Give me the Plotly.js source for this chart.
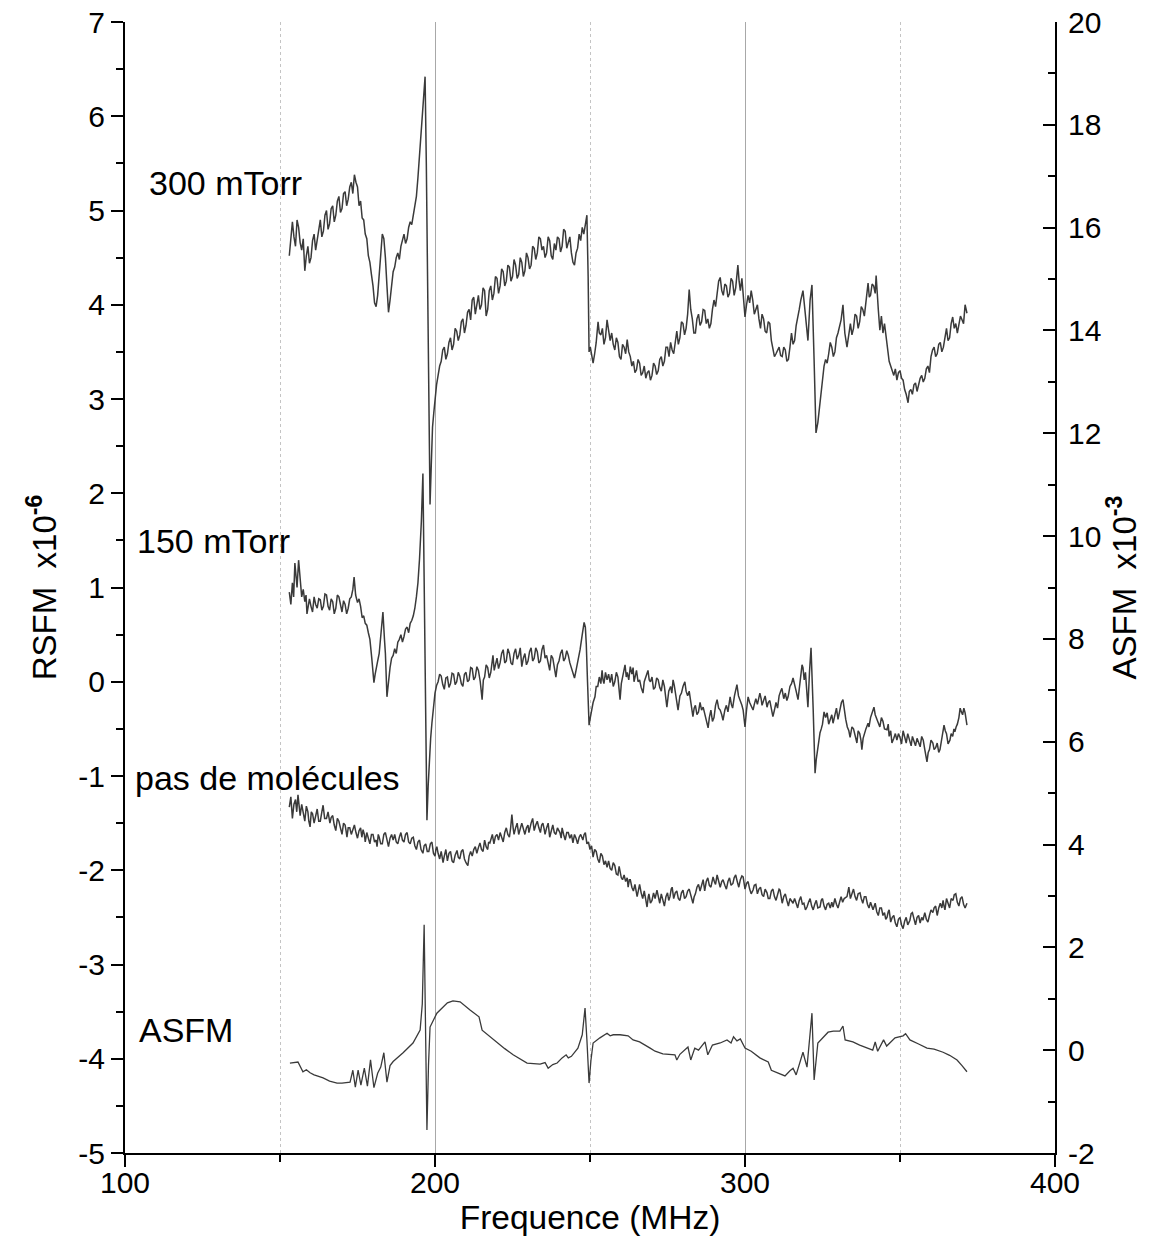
<!DOCTYPE html>
<html>
<head>
<meta charset="utf-8">
<script src="https://cdn.plot.ly/plotly-3.0.1.min.js"></script>
<style>html,body{margin:0;padding:0;background:#fff;}#chart{width:1149px;height:1252px;}</style>
</head>
<body>
<div id="chart"></div>
<script>
// ---- Data (frequency MHz, value) ----
const rsfm300 = [[153,4.52],[153.5,4.70],[154,4.88],[154.5,4.72],[155,4.62],[155.5,4.90],[156,4.82],[156.5,4.66],[157,4.58],[157.5,4.70],[158,4.36],[158.5,4.52],[159,4.62],[159.5,4.44],[160,4.50],[160.5,4.68],[161,4.75],[161.5,4.58],[162,4.68],[162.5,4.82],[163,4.90],[163.5,4.72],[164,4.78],[164.5,4.95],[165,5.00],[165.5,4.80],[166,4.86],[166.5,5.02],[167,5.05],[167.5,4.88],[168,4.95],[168.5,5.10],[169,5.15],[169.5,4.98],[170,5.02],[170.5,5.18],[171,5.20],[171.5,5.05],[172,5.12],[172.5,5.25],[173,5.30],[173.5,5.18],[174,5.38],[174.5,5.30],[175,5.25],[175.5,5.05],[176,5.10],[176.5,4.92],[177,4.90],[177.5,4.75],[178,4.70],[178.5,4.52],[179,4.45],[179.5,4.32],[180,4.20],[180.5,4.02],[181,3.98],[181.5,4.10],[182,4.35],[182.5,4.60],[183,4.75],[183.5,4.70],[184,4.50],[184.5,4.20],[185,3.92],[185.5,4.05],[186,4.20],[186.5,4.35],[187,4.40],[187.5,4.50],[188,4.55],[188.5,4.48],[189,4.62],[189.5,4.70],[190,4.75],[190.5,4.65],[191,4.70],[191.5,4.82],[192,4.88],[192.5,4.85],[193,4.95],[193.5,5.05],[194,5.15],[194.5,5.35],[195,5.60],[195.5,5.85],[196,6.10],[196.4,6.30],[196.8,6.42],[197.2,5.50],[197.6,4.00],[198,2.80],[198.4,1.88],[198.8,2.30],[199.2,2.70],[199.6,2.85],[200,3.00],[200.5,3.15],[201,3.25],[201.5,3.35],[202,3.40],[202.5,3.52],[203,3.55],[203.5,3.42],[204,3.48],[204.5,3.60],[205,3.65],[205.5,3.52],[206,3.58],[206.5,3.75],[207,3.72],[207.5,3.62],[208,3.68],[208.5,3.82],[209,3.85],[209.5,3.70],[210,3.78],[210.5,3.92],[211,3.95],[211.5,3.84],[212,4.05],[212.5,4.08],[213,3.90],[213.5,4.02],[214,4.10],[214.5,3.95],[215,4.00],[215.5,4.18],[216,4.15],[216.5,3.88],[217,3.95],[217.5,4.15],[218,4.20],[218.5,4.05],[219,4.12],[219.5,4.30],[220,4.28],[220.5,4.12],[221,4.20],[221.5,4.38],[222,4.35],[222.5,4.20],[223,4.25],[223.5,4.42],[224,4.40],[224.5,4.25],[225,4.30],[225.5,4.48],[226,4.42],[226.5,4.28],[227,4.32],[227.5,4.50],[228,4.45],[228.5,4.30],[229,4.36],[229.5,4.55],[230,4.50],[230.5,4.38],[231,4.42],[231.5,4.62],[232,4.60],[232.5,4.48],[233,4.55],[233.5,4.72],[234,4.70],[234.5,4.58],[235,4.62],[235.5,4.50],[236,4.55],[236.5,4.72],[237,4.68],[237.5,4.52],[238,4.48],[238.5,4.65],[239,4.58],[239.5,4.72],[240,4.70],[240.5,4.56],[241,4.62],[241.5,4.80],[242,4.78],[242.5,4.60],[243,4.65],[243.5,4.72],[244,4.55],[244.5,4.45],[245,4.42],[245.5,4.55],[246,4.60],[246.5,4.75],[247,4.68],[247.5,4.82],[248,4.75],[248.5,4.88],[249,4.95],[249.4,4.30],[249.7,3.50],[250.1,3.55],[250.5,3.45],[251,3.38],[251.5,3.48],[252,3.60],[252.6,3.82],[253,3.70],[253.5,3.68],[254,3.75],[254.5,3.58],[255,3.65],[255.5,3.84],[256,3.72],[256.5,3.62],[257,3.70],[257.5,3.58],[258,3.52],[258.5,3.65],[259,3.60],[259.5,3.45],[260,3.42],[260.5,3.58],[261,3.55],[261.5,3.48],[262,3.63],[262.5,3.50],[263,3.45],[263.5,3.35],[264,3.40],[264.5,3.28],[265,3.31],[265.5,3.42],[266,3.38],[266.5,3.25],[267,3.28],[267.5,3.35],[268,3.22],[268.5,3.28],[269,3.30],[269.5,3.20],[270,3.25],[270.5,3.38],[271,3.35],[271.5,3.26],[272,3.30],[272.5,3.42],[273,3.45],[273.5,3.35],[274,3.40],[274.5,3.55],[275,3.55],[275.5,3.45],[276,3.60],[276.5,3.52],[277,3.48],[277.5,3.62],[278,3.72],[278.5,3.58],[279,3.65],[279.5,3.82],[280,3.80],[280.5,3.68],[281,3.75],[281.5,3.90],[282,4.16],[282.5,3.95],[283,3.85],[283.5,3.70],[284,3.70],[284.5,3.85],[285,3.90],[285.5,3.78],[286,3.82],[286.5,3.95],[287,3.94],[287.5,3.80],[288,3.85],[288.5,3.75],[289,3.80],[289.5,3.95],[290,4.05],[290.5,3.98],[291,4.15],[291.5,4.25],[292,4.29],[292.5,4.15],[293,4.10],[293.5,4.22],[294,4.20],[294.5,4.08],[295,4.12],[295.5,4.28],[296,4.25],[296.5,4.10],[297,4.18],[297.7,4.42],[298.1,4.25],[298.5,4.15],[299,4.28],[299.5,4.05],[300,3.87],[300.5,4.00],[301,4.10],[301.5,4.02],[302,4.15],[302.5,4.05],[303,3.90],[303.5,3.95],[304,4.00],[304.5,3.85],[305,3.75],[305.5,3.90],[306,3.85],[306.5,3.72],[307,3.70],[307.5,3.82],[308,3.80],[308.5,3.62],[309,3.52],[309.5,3.45],[310,3.48],[310.5,3.52],[311,3.55],[311.5,3.46],[312,3.45],[312.5,3.55],[313,3.52],[313.5,3.40],[314,3.42],[314.5,3.55],[315,3.70],[315.5,3.58],[316,3.62],[316.5,3.78],[317,3.85],[317.5,3.95],[318,4.05],[318.7,4.15],[319.1,4.02],[319.5,3.90],[320.3,3.62],[321,4.05],[321.6,4.21],[322.3,3.40],[322.9,2.64],[323.5,2.75],[324,2.90],[324.5,3.05],[325,3.20],[325.5,3.35],[326,3.42],[326.5,3.38],[327,3.48],[327.5,3.60],[328,3.55],[328.5,3.45],[329,3.50],[329.5,3.65],[330,3.70],[330.5,3.78],[331,3.84],[331.6,4.00],[332.2,3.70],[332.9,3.55],[333.5,3.72],[334,3.80],[334.5,3.68],[335,3.75],[335.5,3.90],[336,3.88],[336.5,3.75],[337,3.82],[337.5,3.98],[338,3.95],[338.5,3.88],[339,4.05],[339.7,4.23],[340.1,4.08],[340.5,4.10],[341,4.22],[341.5,4.20],[342,4.12],[342.3,4.31],[343,3.95],[343.5,3.73],[344,3.88],[344.5,3.70],[345,3.80],[345.5,3.65],[346,3.55],[346.5,3.40],[347,3.35],[347.5,3.30],[348,3.25],[348.5,3.32],[349,3.20],[349.5,3.28],[350,3.30],[350.5,3.22],[351,3.20],[351.5,3.10],[352,3.05],[352.6,2.96],[353,3.08],[353.5,3.10],[354,3.05],[354.5,3.15],[355,3.17],[355.5,3.08],[356,3.15],[356.5,3.22],[357,3.25],[357.5,3.18],[358,3.22],[358.5,3.32],[359,3.35],[359.5,3.28],[360,3.45],[360.5,3.52],[361,3.55],[361.5,3.45],[362,3.48],[362.5,3.58],[363,3.60],[363.5,3.50],[364,3.55],[364.5,3.68],[365,3.75],[365.5,3.62],[366,3.65],[366.5,3.80],[367,3.87],[367.5,3.75],[368,3.80],[368.5,3.70],[369,3.78],[369.5,3.88],[370,3.84],[370.5,3.80],[371,4.00],[371.6,3.91]];

const rsfm150 = [[153,0.95],[153.5,0.82],[154,1.05],[154.4,0.90],[154.8,1.26],[155.2,1.05],[155.5,1.00],[156,1.29],[156.5,1.05],[157,0.90],[157.5,0.98],[158,0.85],[158.4,0.92],[158.7,0.72],[159.1,0.80],[159.5,0.88],[160,0.80],[160.5,0.74],[161,0.90],[161.5,0.82],[162,0.78],[162.5,0.88],[163,0.87],[163.5,0.76],[164,0.80],[164.5,0.93],[165,0.92],[165.5,0.80],[166,0.76],[166.5,0.88],[167,0.85],[167.5,0.72],[168,0.78],[168.5,0.92],[169,0.90],[169.5,0.80],[170,0.74],[170.5,0.86],[171,0.82],[171.5,0.72],[172,0.78],[172.5,0.88],[173,0.90],[173.5,0.98],[173.9,1.11],[174.4,0.92],[175,0.84],[175.5,0.88],[176,0.80],[176.5,0.68],[177,0.70],[177.5,0.62],[178,0.60],[178.5,0.52],[179,0.45],[179.6,0.25],[180.3,-0.01],[180.7,0.08],[181,0.15],[181.5,0.22],[182,0.30],[182.6,0.55],[183.2,0.74],[183.7,0.45],[184,0.30],[184.5,-0.16],[185,0.02],[185.5,0.15],[186,0.25],[186.5,0.28],[187,0.35],[187.5,0.30],[188,0.42],[188.5,0.45],[189,0.50],[189.5,0.42],[190,0.48],[190.5,0.56],[191,0.58],[191.5,0.52],[192,0.62],[192.5,0.65],[193,0.70],[193.5,0.78],[194,0.90],[194.5,1.05],[195,1.30],[195.6,1.70],[196.1,2.21],[196.5,1.20],[196.8,0.50],[197.1,-0.60],[197.4,-1.47],[197.8,-1.10],[198.2,-0.80],[198.6,-0.60],[199,-0.44],[199.5,-0.25],[200,-0.12],[200.5,-0.04],[201,0.00],[201.5,0.08],[202,0.06],[202.5,-0.03],[203,-0.08],[203.5,0.04],[204,0.05],[204.5,-0.06],[205,-0.02],[205.5,0.09],[206,0.08],[206.5,-0.03],[207,0.00],[207.5,0.10],[208,0.06],[208.5,-0.02],[209,-0.05],[209.5,0.08],[210,0.10],[210.5,0.00],[211,0.02],[211.5,0.15],[212,0.14],[212.5,0.02],[213,0.05],[213.5,0.16],[214,0.12],[214.6,0.00],[215.2,-0.19],[215.6,0.02],[216,0.05],[216.5,0.18],[217,0.15],[217.5,0.04],[218,0.10],[218.7,0.28],[219.1,0.12],[219.5,0.18],[220,0.25],[220.5,0.14],[221,0.20],[221.5,0.30],[222,0.34],[222.5,0.20],[223,0.22],[223.5,0.35],[224,0.30],[224.5,0.20],[225,0.18],[225.5,0.30],[226,0.35],[226.5,0.24],[227,0.28],[227.5,0.36],[228,0.16],[228.5,0.25],[229,0.30],[229.5,0.18],[230,0.22],[230.5,0.32],[231,0.36],[231.5,0.22],[232,0.25],[232.5,0.36],[233,0.32],[233.5,0.20],[234,0.22],[234.5,0.34],[235,0.39],[235.5,0.25],[236,0.28],[236.5,0.20],[237,0.12],[237.5,0.28],[238,0.25],[238.5,0.15],[239,0.05],[239.5,0.18],[240,0.22],[240.5,0.30],[241,0.34],[241.5,0.22],[242,0.25],[242.5,0.33],[243,0.28],[243.5,0.20],[244,0.15],[244.5,0.10],[245,0.04],[245.5,0.12],[246,0.20],[246.4,0.28],[246.8,0.34],[247.5,0.50],[248.1,0.63],[248.5,0.58],[248.8,0.40],[249.2,0.00],[249.7,-0.46],[250.1,-0.38],[250.5,-0.30],[251,-0.22],[251.6,-0.16],[252,-0.05],[252.5,-0.05],[253,0.05],[253.5,-0.02],[253.9,0.12],[254.2,0.02],[254.5,-0.02],[255,0.10],[255.5,0.02],[256,0.08],[256.5,-0.01],[257,0.08],[257.5,-0.05],[258,0.00],[258.5,0.10],[259,0.05],[259.7,-0.19],[260.1,-0.02],[260.5,0.05],[261,0.10],[261.3,0.18],[261.7,0.05],[262,0.10],[262.5,0.02],[263,0.16],[263.5,0.08],[263.9,0.15],[264.2,0.00],[264.5,0.05],[265,0.12],[265.5,0.00],[266,0.02],[266.5,-0.06],[267.1,-0.12],[267.5,0.00],[268,0.05],[268.7,0.12],[269.1,0.02],[269.5,0.00],[270,0.05],[270.5,-0.08],[271,-0.06],[271.5,0.04],[272,0.02],[272.5,-0.06],[273,-0.10],[273.5,0.02],[274,-0.05],[274.4,-0.15],[274.8,-0.27],[275.4,-0.10],[276,-0.05],[276.4,-0.12],[276.8,0.02],[277.2,-0.04],[277.5,-0.10],[278,-0.18],[278.4,-0.30],[279,-0.15],[279.5,-0.12],[280,-0.05],[280.6,0.00],[281,-0.10],[281.5,-0.15],[282,-0.10],[282.6,-0.22],[283.2,-0.37],[283.6,-0.28],[284,-0.25],[284.5,-0.35],[285,-0.32],[285.5,-0.22],[286,-0.30],[286.5,-0.27],[287,-0.35],[287.5,-0.40],[288.1,-0.49],[288.5,-0.38],[289,-0.30],[289.5,-0.42],[290,-0.38],[290.5,-0.25],[291,-0.19],[291.5,-0.28],[292,-0.30],[292.5,-0.35],[292.9,-0.41],[293.5,-0.30],[294,-0.25],[294.5,-0.32],[295.2,-0.16],[295.6,-0.24],[296,-0.28],[296.6,-0.15],[297.4,-0.03],[297.9,-0.15],[298.5,-0.20],[299,-0.25],[299.4,-0.30],[299.7,-0.40],[300,-0.48],[300.5,-0.30],[301,-0.16],[301.5,-0.22],[302,-0.25],[302.6,-0.30],[303,-0.24],[303.5,-0.18],[304,-0.24],[304.8,-0.12],[305.2,-0.18],[305.5,-0.25],[306,-0.20],[306.5,-0.15],[307.1,-0.27],[307.5,-0.22],[308,-0.20],[308.5,-0.28],[309,-0.37],[309.5,-0.30],[310,-0.22],[310.5,-0.28],[311,-0.15],[311.5,-0.10],[311.9,-0.07],[312.5,-0.18],[313,-0.12],[313.5,-0.20],[313.9,-0.16],[314.5,-0.05],[315,-0.02],[315.5,0.04],[316,-0.05],[316.5,-0.10],[317.1,-0.19],[317.5,-0.08],[318,0.05],[318.4,0.18],[318.7,0.15],[319.1,0.02],[319.5,0.10],[320,-0.10],[320.3,-0.27],[320.8,0.10],[321.3,0.36],[322,-0.30],[322.6,-0.97],[323,-0.82],[323.5,-0.70],[324.2,-0.54],[324.6,-0.50],[325,-0.45],[325.5,-0.32],[326,-0.38],[326.5,-0.33],[327,-0.45],[327.5,-0.40],[328,-0.35],[328.4,-0.44],[329,-0.35],[329.5,-0.28],[330,-0.40],[330.6,-0.30],[331.1,-0.22],[331.6,-0.19],[332,-0.30],[332.5,-0.40],[333,-0.48],[333.5,-0.52],[333.9,-0.59],[334.5,-0.48],[335,-0.50],[335.5,-0.58],[336.1,-0.65],[336.5,-0.52],[337,-0.55],[337.4,-0.62],[337.7,-0.72],[338.1,-0.60],[338.5,-0.55],[339,-0.50],[339.7,-0.44],[340,-0.48],[340.5,-0.38],[341,-0.32],[341.6,-0.27],[342,-0.35],[342.5,-0.40],[343,-0.45],[343.5,-0.48],[344,-0.38],[344.5,-0.42],[345,-0.50],[345.8,-0.51],[346.2,-0.45],[346.5,-0.58],[347,-0.52],[347.4,-0.65],[348,-0.60],[348.5,-0.55],[349,-0.62],[349.5,-0.55],[350,-0.59],[350.5,-0.66],[351,-0.52],[351.5,-0.60],[352,-0.65],[352.5,-0.55],[353.2,-0.62],[353.6,-0.68],[354,-0.58],[354.5,-0.64],[355,-0.68],[355.5,-0.60],[356,-0.65],[356.5,-0.69],[357,-0.58],[357.5,-0.62],[358,-0.72],[358.7,-0.85],[359.1,-0.75],[359.5,-0.72],[360,-0.62],[360.6,-0.65],[361,-0.72],[361.5,-0.70],[362,-0.65],[362.5,-0.75],[362.9,-0.72],[363.5,-0.58],[364.2,-0.46],[364.6,-0.52],[365,-0.55],[365.5,-0.66],[366.1,-0.62],[366.5,-0.55],[367,-0.58],[367.4,-0.50],[367.7,-0.53],[368.1,-0.48],[368.5,-0.45],[369,-0.38],[369.4,-0.28],[369.8,-0.32],[370.2,-0.35],[370.6,-0.28],[371,-0.33],[371.6,-0.46]];

const rsfmNone = [[153,-1.33],[153.5,-1.22],[154,-1.45],[154.5,-1.30],[155,-1.25],[155.4,-1.38],[155.8,-1.20],[156.2,-1.35],[156.5,-1.42],[157,-1.30],[157.5,-1.40],[158,-1.48],[158.5,-1.32],[159,-1.38],[159.3,-1.48],[159.7,-1.54],[160.1,-1.38],[160.5,-1.40],[161,-1.50],[161.5,-1.42],[162,-1.35],[162.5,-1.48],[163,-1.48],[163.5,-1.38],[163.9,-1.31],[164.4,-1.45],[165,-1.45],[165.5,-1.38],[166.1,-1.50],[166.5,-1.44],[167,-1.42],[167.5,-1.52],[168,-1.58],[168.5,-1.45],[169,-1.48],[169.5,-1.55],[170,-1.62],[170.5,-1.50],[171,-1.52],[171.3,-1.58],[171.6,-1.65],[172,-1.55],[172.5,-1.55],[173,-1.62],[173.5,-1.58],[174,-1.52],[174.5,-1.60],[175,-1.66],[175.5,-1.58],[176,-1.55],[176.4,-1.65],[176.8,-1.57],[177.2,-1.62],[177.5,-1.70],[178,-1.60],[178.5,-1.65],[179,-1.72],[179.5,-1.62],[180,-1.62],[180.5,-1.70],[181,-1.68],[181.3,-1.75],[181.7,-1.62],[182,-1.65],[182.5,-1.72],[183,-1.72],[183.5,-1.62],[184,-1.60],[184.5,-1.68],[185,-1.75],[185.5,-1.66],[186,-1.62],[186.5,-1.68],[187,-1.62],[187.5,-1.70],[188,-1.72],[188.5,-1.65],[189,-1.60],[189.5,-1.68],[190,-1.70],[190.5,-1.62],[191,-1.60],[191.5,-1.70],[192,-1.72],[192.5,-1.66],[193,-1.65],[193.5,-1.74],[194,-1.78],[194.5,-1.70],[195,-1.68],[195.5,-1.78],[196.1,-1.82],[196.5,-1.74],[197,-1.72],[197.5,-1.80],[198,-1.80],[198.5,-1.72],[199,-1.70],[199.5,-1.82],[200,-1.85],[200.3,-1.78],[200.6,-1.75],[201,-1.82],[201.5,-1.88],[202,-1.80],[202.6,-1.92],[203,-1.85],[203.5,-1.78],[204,-1.90],[204.5,-1.82],[205,-1.80],[205.5,-1.90],[206,-1.92],[206.5,-1.84],[207.1,-1.79],[207.5,-1.86],[208,-1.88],[208.5,-1.80],[209,-1.78],[209.5,-1.88],[210,-1.92],[210.6,-1.95],[211,-1.85],[211.5,-1.80],[212,-1.85],[212.5,-1.78],[213,-1.75],[213.5,-1.82],[214,-1.76],[214.5,-1.71],[215,-1.78],[215.5,-1.80],[216,-1.68],[216.5,-1.75],[217,-1.78],[217.3,-1.70],[217.7,-1.71],[218.1,-1.65],[218.5,-1.62],[219,-1.72],[219.5,-1.64],[220,-1.62],[220.5,-1.68],[221,-1.60],[221.5,-1.66],[222,-1.70],[222.5,-1.60],[223,-1.55],[223.5,-1.62],[224,-1.65],[224.4,-1.55],[224.8,-1.41],[225.2,-1.55],[225.5,-1.62],[226,-1.55],[226.5,-1.50],[227,-1.62],[227.4,-1.57],[228,-1.50],[228.5,-1.56],[229,-1.62],[229.5,-1.55],[230,-1.52],[230.3,-1.60],[230.6,-1.54],[231,-1.50],[231.5,-1.45],[232,-1.58],[232.5,-1.52],[233,-1.48],[233.5,-1.55],[234,-1.60],[234.4,-1.52],[234.8,-1.50],[235.2,-1.56],[235.5,-1.62],[236,-1.55],[236.5,-1.50],[237,-1.65],[237.5,-1.58],[238,-1.52],[238.5,-1.60],[239,-1.62],[239.5,-1.55],[240.3,-1.60],[240.7,-1.66],[241,-1.55],[241.5,-1.62],[242,-1.68],[242.5,-1.60],[243,-1.60],[243.5,-1.66],[244,-1.62],[244.5,-1.71],[245,-1.62],[245.5,-1.66],[246,-1.72],[246.5,-1.65],[247,-1.62],[247.7,-1.68],[248.1,-1.62],[248.5,-1.60],[249,-1.72],[249.5,-1.70],[250,-1.78],[250.5,-1.74],[251,-1.86],[251.5,-1.78],[252,-1.80],[252.5,-1.88],[253,-1.92],[253.5,-1.82],[254,-1.85],[254.5,-1.94],[255,-1.90],[255.5,-1.97],[256,-1.90],[256.5,-1.98],[257,-2.00],[257.5,-1.92],[258,-1.95],[258.5,-2.04],[259,-2.05],[259.4,-1.96],[259.7,-2.00],[260.1,-2.08],[260.5,-2.10],[261,-2.05],[261.5,-2.12],[262,-2.08],[262.3,-2.18],[262.7,-2.10],[263,-2.10],[263.5,-2.18],[264,-2.22],[264.5,-2.15],[265.2,-2.28],[265.6,-2.20],[266,-2.15],[266.5,-2.24],[267,-2.30],[267.5,-2.22],[268,-2.30],[268.4,-2.39],[268.8,-2.28],[269,-2.25],[269.5,-2.35],[270,-2.32],[270.5,-2.24],[271,-2.30],[271.6,-2.21],[272,-2.28],[272.5,-2.35],[273,-2.25],[273.5,-2.32],[274,-2.38],[274.5,-2.28],[275,-2.24],[275.4,-2.32],[275.8,-2.28],[276.2,-2.20],[276.5,-2.18],[277,-2.30],[277.5,-2.24],[278,-2.22],[278.5,-2.30],[279,-2.32],[279.5,-2.24],[280,-2.21],[280.5,-2.30],[281,-2.28],[281.5,-2.22],[282,-2.20],[282.6,-2.28],[283.2,-2.35],[283.6,-2.28],[284,-2.25],[284.5,-2.18],[285,-2.15],[285.5,-2.22],[286,-2.15],[286.5,-2.10],[287,-2.22],[287.5,-2.12],[288,-2.08],[288.5,-2.16],[289,-2.18],[289.4,-2.10],[289.7,-2.07],[290.1,-2.12],[290.5,-2.15],[291,-2.05],[291.5,-2.12],[292,-2.18],[292.5,-2.12],[292.9,-2.10],[293.5,-2.16],[294,-2.20],[294.5,-2.12],[295,-2.08],[295.5,-2.16],[296.1,-2.14],[296.5,-2.08],[297,-2.05],[297.5,-2.12],[298,-2.18],[298.5,-2.10],[299,-2.06],[299.4,-2.07],[299.8,-2.15],[300,-2.20],[300.5,-2.14],[301,-2.12],[301.5,-2.20],[302,-2.25],[302.6,-2.21],[303,-2.16],[303.5,-2.15],[304,-2.25],[304.5,-2.20],[305,-2.18],[305.5,-2.26],[306,-2.28],[306.5,-2.20],[307.1,-2.24],[307.5,-2.30],[308,-2.30],[308.5,-2.22],[309,-2.20],[309.5,-2.28],[310,-2.32],[310.5,-2.26],[311,-2.20],[311.3,-2.21],[311.7,-2.30],[312,-2.35],[312.5,-2.28],[313,-2.25],[313.5,-2.32],[314,-2.38],[314.5,-2.30],[315,-2.32],[315.5,-2.35],[316,-2.30],[316.5,-2.36],[317,-2.40],[317.5,-2.32],[318,-2.28],[318.5,-2.36],[319,-2.35],[319.5,-2.42],[320,-2.39],[320.5,-2.34],[321,-2.30],[321.5,-2.38],[322,-2.42],[322.5,-2.36],[323,-2.32],[323.5,-2.40],[324.2,-2.39],[324.6,-2.32],[325,-2.30],[325.5,-2.38],[326,-2.42],[326.5,-2.36],[327,-2.35],[327.5,-2.40],[328,-2.34],[328.4,-2.39],[328.8,-2.32],[329,-2.30],[329.5,-2.36],[330,-2.40],[330.5,-2.34],[331,-2.28],[331.5,-2.34],[332,-2.30],[332.9,-2.28],[333.5,-2.18],[334,-2.30],[334.5,-2.26],[335,-2.20],[335.5,-2.28],[336,-2.32],[336.5,-2.25],[337.1,-2.24],[337.5,-2.30],[338,-2.35],[338.5,-2.28],[339,-2.28],[339.5,-2.36],[340,-2.40],[340.5,-2.34],[341.3,-2.42],[341.7,-2.38],[342,-2.35],[342.5,-2.44],[343,-2.48],[343.5,-2.40],[344,-2.40],[344.5,-2.48],[345,-2.45],[345.4,-2.52],[345.8,-2.50],[346.2,-2.44],[346.5,-2.42],[347,-2.55],[347.5,-2.50],[348,-2.48],[348.5,-2.56],[349,-2.60],[349.5,-2.52],[350,-2.50],[350.5,-2.58],[351,-2.62],[351.5,-2.54],[352,-2.50],[352.5,-2.58],[353.2,-2.53],[353.6,-2.46],[354,-2.45],[354.5,-2.52],[355,-2.58],[355.5,-2.50],[356,-2.48],[356.5,-2.56],[357,-2.50],[357.4,-2.53],[357.8,-2.46],[358,-2.45],[358.5,-2.52],[359,-2.55],[359.5,-2.48],[360,-2.42],[360.6,-2.45],[361,-2.40],[361.5,-2.38],[362,-2.48],[362.5,-2.40],[363,-2.35],[363.5,-2.40],[363.9,-2.32],[364.2,-2.38],[364.5,-2.42],[365,-2.30],[365.5,-2.36],[366,-2.40],[366.5,-2.30],[367.1,-2.32],[367.5,-2.26],[368,-2.25],[368.5,-2.34],[369,-2.38],[369.5,-2.30],[370,-2.28],[370.5,-2.36],[371,-2.40],[371.6,-2.35]];

const asfm = [[153.2,-0.25],[155.8,-0.23],[157.4,-0.42],[158.5,-0.38],[159.7,-0.44],[161,-0.48],[163.9,-0.54],[166,-0.60],[168.4,-0.64],[170,-0.64],[172.6,-0.62],[173.5,-0.39],[174.3,-0.72],[175.2,-0.39],[176.1,-0.68],[177.2,-0.35],[178.2,-0.70],[179.2,-0.19],[180.3,-0.73],[181.5,-0.45],[182.5,-0.33],[183.5,-0.05],[184.5,-0.62],[185.5,-0.30],[186.5,-0.22],[189.7,-0.05],[192.9,0.14],[195.2,0.39],[195.9,0.90],[196.5,2.44],[197,0.20],[197.4,-1.55],[197.9,-0.30],[198.4,0.45],[200.6,0.72],[202.6,0.84],[204,0.92],[205.8,0.96],[208.1,0.94],[211.3,0.78],[213.5,0.68],[214.2,0.65],[215.2,0.39],[217,0.30],[220,0.14],[222.5,0.03],[225.2,-0.09],[227.5,-0.18],[229.7,-0.25],[233.9,-0.27],[235.5,-0.24],[236.5,-0.35],[238,-0.28],[239.4,-0.25],[241,-0.15],[242.3,-0.09],[243,-0.15],[244,-0.12],[246.1,0.04],[247.5,0.30],[248.4,0.82],[249,0.20],[249.7,-0.64],[250.3,-0.20],[251,0.14],[253.2,0.24],[255.5,0.33],[256.5,0.28],[257.5,0.30],[259.7,0.30],[262.3,0.28],[263.9,0.20],[266,0.16],[269.4,0.04],[271,-0.02],[273.5,-0.07],[277.4,-0.09],[278,-0.19],[279,-0.08],[281.6,0.06],[282.5,-0.19],[283.8,0.04],[285,0.00],[287.1,0.16],[288,-0.09],[289.5,0.10],[292,0.14],[294.2,0.20],[295.5,0.14],[296.3,0.26],[297.4,0.18],[298.5,0.22],[300,0.04],[302,-0.02],[304.8,-0.15],[307.5,-0.23],[308.5,-0.39],[310.5,-0.44],[312.9,-0.50],[314.5,-0.40],[315.5,-0.35],[316.5,-0.48],[318.7,-0.04],[320,-0.33],[321.6,0.72],[322.3,-0.58],[323.5,0.14],[326.8,0.35],[328.5,0.37],[330.6,0.37],[331.6,0.47],[332.3,0.20],[334.8,0.16],[337,0.10],[339.4,0.04],[341.2,0.00],[342,0.16],[342.8,-0.02],[344.7,0.20],[345.7,0.08],[348.4,0.24],[351,0.28],[351.8,0.32],[353.2,0.20],[356,0.12],[358.7,0.04],[361,0.02],[363.9,-0.04],[366,-0.10],[368.4,-0.19],[370,-0.30],[371.6,-0.42]];

const traceLabels = ["300 mTorr", "150 mTorr", "pas de molécules", "ASFM"];
const labelPos = [[107, 5.29], [103.3, 1.49], [102.6, -1.02], [103.9, -3.69]];

const xTickVals = [100, 200, 300, 400];
const leftTickVals = [-5,-4,-3,-2,-1,0,1,2,3,4,5,6,7];
const leftTickText = ["-5","-4","-3","-2","-1","0","1","2","3","4","5","6","7"];
const rightTickVals = [-2,0,2,4,6,8,10,12,14,16,18,20];
const rightTickText = ["-2","0","2","4","6","8","10","12","14","16","18","20"];

// ---- Build ----
const FONT = "'Liberation Sans', Arial, sans-serif";
const LINE = "#3a3a3a";
function mk(pairs, name, yaxis, w) {
  return {x: pairs.map(p => p[0]), y: pairs.map(p => p[1]), name: name, type: "scatter",
          mode: "lines", yaxis: yaxis, line: {color: LINE, width: w}, hoverinfo: "skip"};
}
const data = [
  mk(rsfm300, traceLabels[0], "y", 1.5),
  mk(rsfm150, traceLabels[1], "y", 1.5),
  mk(rsfmNone, traceLabels[2], "y", 1.5),
  mk(asfm, traceLabels[3], "y2", 1.3)
];

const annotations = traceLabels.map((t, i) => ({
  text: t, x: labelPos[i][0], y: labelPos[i][1], xref: "x", yref: "y",
  xanchor: "left", yanchor: "middle", showarrow: false,
  font: {family: FONT, size: 34, color: "#000"}
}));

const layout = {
  width: 1149, height: 1252,
  margin: {l: 125, r: 94, t: 22, b: 99, pad: 0},
  paper_bgcolor: "#fff", plot_bgcolor: "#fff",
  showlegend: false,
  font: {family: FONT, color: "#000"},
  xaxis: {
    range: [100, 400], tickmode: "array", tickvals: xTickVals,
    ticks: "outside", ticklen: 12, tickwidth: 2, tickcolor: "#000",
    showline: true, linewidth: 2, linecolor: "#000", mirror: false,
    showgrid: true, gridcolor: "#a8a8a8", gridwidth: 1, zeroline: false,
    minor: {dtick: 50, tick0: 0, ticks: "outside", ticklen: 7, tickwidth: 2, tickcolor: "#000",
            showgrid: true, gridcolor: "#c4c4c4", gridwidth: 1, griddash: "dot"},
    tickfont: {family: FONT, size: 30, color: "#000"},
    ticklabelstandoff: -10,
    title: {text: "Frequence (MHz)", font: {family: FONT, size: 33.5, color: "#000"}, standoff: 0}
  },
  yaxis: {
    range: [-5, 7], tickmode: "array", tickvals: leftTickVals, ticktext: leftTickText,
    ticks: "outside", ticklen: 12, tickwidth: 2, tickcolor: "#000",
    showline: true, linewidth: 2, linecolor: "#000",
    showgrid: false, zeroline: false,
    minor: {dtick: 0.5, tick0: 0, ticks: "outside", ticklen: 7, tickwidth: 2, tickcolor: "#000", showgrid: false},
    tickfont: {family: FONT, size: 30, color: "#000"},
    title: {text: "RSFM  x10<sup><b>-6</b></sup>", font: {family: FONT, size: 33, color: "#000"}, standoff: 12}
  },
  yaxis2: {
    overlaying: "y", side: "right", anchor: "x",
    range: [-2, 20], tickmode: "array", tickvals: rightTickVals, ticktext: rightTickText,
    ticks: "inside", ticklen: 12, tickwidth: 2, tickcolor: "#000",
    showline: true, linewidth: 2, linecolor: "#000",
    showgrid: false, zeroline: false,
    minor: {dtick: 1, tick0: 0, ticks: "inside", ticklen: 7, tickwidth: 2, tickcolor: "#000", showgrid: false},
    tickfont: {family: FONT, size: 30, color: "#000"},
    ticklabelstandoff: 5,
    title: {text: "ASFM  x10<sup><b>-3</b></sup>", font: {family: FONT, size: 33, color: "#000"}, standoff: 8}
  },
  annotations: annotations
};

Plotly.newPlot("chart", data, layout, {displayModeBar: false, staticPlot: true});
</script>
</body>
</html>
